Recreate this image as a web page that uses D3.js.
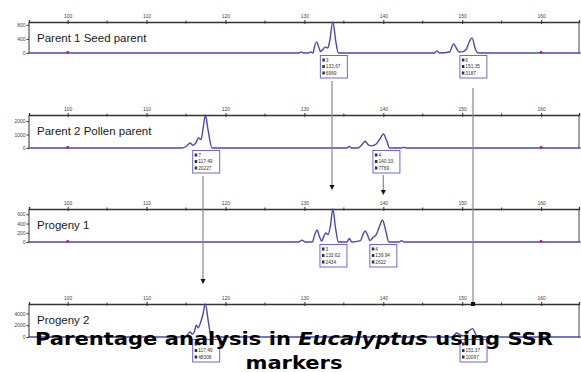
<!DOCTYPE html>
<html>
<head>
<meta charset="utf-8">
<script src="https://cdn.jsdelivr.net/npm/d3@7"></script>
<style>
  html, body { margin: 0; padding: 0; background: #fff; }
  svg { display: block; }
</style>
</head>
<body>
<div id="chart"></div>
<script>
// panel names, y scales and size ticks
const panelNames = ['Parent 1 Seed parent', 'Parent 2 Pollen parent', 'Progeny 1', 'Progeny 2'];
const yMaxes = [880, 2450, 715, 5600];
const yTicks = [[0, 400, 800], [0, 1000, 2000], [0, 200, 400, 600], [0, 2000, 4000]];
const sizeLabels = [100, 110, 120, 130, 140, 150, 160];
const sizeMinor = [105, 115, 125, 135, 145, 155];
const ladderMarks = [100, 160];

// electropherogram traces [size (bp), rfu]
const trace1 = [[95,0],[129.3,0],[129.6,30],[129.9,0],[130.5,0],[130.8,30],[131.1,0],[131.25,150],[131.55,315],[131.85,150],
  [132.05,40],[132.3,90],[132.65,175],[132.95,140],[133.2,330],[133.6,880],[134.0,300],[134.3,0],[146.5,0],[146.8,60],
  [147.1,0],[148.4,30],[148.9,260],[149.3,120],[149.6,30],[150.1,40],[150.5,100],[150.9,320],[151.25,430],[151.65,120],[152,0],[165,0]];
const trace2 = [[95,0],[114.5,0],[115.1,150],[115.5,370],[115.9,200],[116.2,350],[116.6,740],[116.9,620],[117.2,1600],
  [117.45,2450],[117.8,1300],[118.3,0],[135.4,0],[135.7,120],[136,0],[136.8,0],[137.3,250],[137.7,500],[138.1,230],
  [138.5,160],[139.1,300],[139.6,700],[140,1040],[140.4,600],[140.8,0],[142.3,0],[142.6,50],[142.9,0],[165,0]];
const trace3 = [[95,0],[129.3,0],[129.7,40],[130.1,0],[131,0],[131.3,150],[131.6,260],[131.9,120],[132.2,20],[132.45,120],
  [132.7,195],[133,160],[133.3,350],[133.6,715],[133.95,300],[134.3,0],[135.4,0],[135.7,76],[136,0],[137.1,30],[137.4,150],
  [137.7,238],[138,150],[138.3,30],[138.7,100],[139.1,160],[139.5,330],[139.9,477],[140.3,250],[140.7,0],[142,0],
  [142.3,30],[142.6,0],[165,0]];
const trace4 = [[95,0],[114.8,0],[115.2,400],[115.5,850],[115.8,500],[116.05,900],[116.3,2000],[116.55,1550],[116.8,2300],
  [117.1,3600],[117.45,5600],[117.85,2400],[118.2,0],[148.7,0],[149.3,680],[149.8,300],[150.3,200],[150.9,1100],
  [151.3,1420],[151.7,500],[152,0],[165,0]];
const traces = [trace1, trace2, trace3, trace4];

// allele call boxes: allele, size, area
const calls1 = [{ al: '3', size: 133.67, area: 6969 }, { al: '6', size: 151.35, area: 3187 }];
const calls2 = [{ al: '7', size: 117.49, area: 20227 }, { al: '4', size: 140.33, area: 7769 }];
const calls3 = [{ al: '3', size: 133.62, area: 2434 }, { al: '4', size: 139.94, area: 2622 }];
const calls4 = [{ al: '7', size: 117.49, area: 48308 }, { al: '6', size: 151.37, area: 10097 }];
const calls = [calls1, calls2, calls3, calls4];

const W = 581, H = 372;
const left = 29, right = 579;
const panelTops = [22, 115, 209, 304];
const panelHeights = [31, 33, 33, 33];
const traceColor = '#4848b4';
const boxColor = '#6a6ad2';

const svg = d3.select('#chart').append('svg')
  .attr('width', W).attr('height', H)
  .attr('viewBox', `0 0 ${W} ${H}`);

const x = d3.scaleLinear().domain([95.1, 164.8]).range([left, right]);

panelNames.forEach((name, i) => {
  const top = panelTops[i];
  const base = top + panelHeights[i];
  const y = d3.scaleLinear().domain([0, yMaxes[i]]).range([base, top]);
  const g = svg.append('g').attr('class', 'panel');

  // frame sides
  g.append('line').attr('x1', left).attr('x2', left).attr('y1', top).attr('y2', base)
    .attr('stroke', '#333').attr('stroke-width', 1);
  g.append('line').attr('x1', right).attr('x2', right).attr('y1', top).attr('y2', base)
    .attr('stroke', '#444').attr('stroke-width', 1);

  // top size axis
  const topAxis = g.append('g').attr('transform', `translate(0,${top})`)
    .call(d3.axisTop(x).tickValues(sizeLabels).tickSize(2).tickFormat(d3.format('d')));
  topAxis.select('.domain').attr('stroke', '#333').attr('stroke-width', 1.3);
  topAxis.selectAll('.tick line').attr('stroke', '#333').attr('y2', 2).attr('y1', -2);
  topAxis.selectAll('.tick text').attr('font-family', 'Liberation Sans, Arial, sans-serif')
    .attr('font-size', 5).attr('fill', '#444').attr('y', -4);
  g.selectAll('.minor').data(sizeMinor).enter().append('line')
    .attr('x1', d => x(d)).attr('x2', d => x(d)).attr('y1', top - 1.5).attr('y2', top + 1.5)
    .attr('stroke', '#333');

  // left rfu axis
  const leftAxis = g.append('g').attr('transform', `translate(${left},0)`)
    .call(d3.axisLeft(y).tickValues(yTicks[i]).tickSize(2.5).tickFormat(d3.format('d')));
  leftAxis.select('.domain').remove();
  leftAxis.selectAll('.tick line').attr('stroke', '#333');
  leftAxis.selectAll('.tick text').attr('font-family', 'Liberation Sans, Arial, sans-serif')
    .attr('font-size', 5).attr('fill', '#444').attr('x', -3.5);

  // trace
  const line = d3.line().x(d => x(d[0])).y(d => y(d[1])).curve(d3.curveMonotoneX);
  g.append('path').datum(traces[i]).attr('d', line)
    .attr('fill', 'none').attr('stroke', traceColor).attr('stroke-width', 1.4);

  // ladder marks
  g.selectAll('.mark').data(ladderMarks).enter().append('circle')
    .attr('cx', d => x(d)).attr('cy', base - 0.8).attr('r', 1.3).attr('fill', '#c8102e');

  // panel label
  g.append('text').attr('x', 37).attr('y', top + 20)
    .attr('font-family', 'Liberation Sans, Arial, sans-serif').attr('font-size', 11.5)
    .attr('fill', '#1a1a1a').text(name);

  // allele call boxes
  const box = g.selectAll('.call').data(calls[i]).enter().append('g')
    .attr('transform', d => `translate(${x(d.size) - 13},${base + 2.5})`);
  box.append('rect').attr('width', 27).attr('height', 22.5)
    .attr('fill', '#fff').attr('stroke', boxColor).attr('stroke-width', 1);
  const rows = d => [d.al, d.size.toFixed(2), String(d.area)];
  box.each(function(d) {
    const b = d3.select(this);
    rows(d).forEach((t, k) => {
      b.append('rect').attr('x', 2).attr('y', 3 + k * 6.5).attr('width', 2.5).attr('height', 3)
        .attr('fill', '#333');
      b.append('text').attr('x', 5.5).attr('y', 6.3 + k * 6.5)
        .attr('font-family', 'Liberation Sans, Arial, sans-serif').attr('font-size', 4.8)
        .attr('fill', '#333').text(t);
    });
  });
});

// inheritance arrows
const arrowLines = svg.append('g').attr('class', 'arrows');
function arrow(bp, y0, y1, head) {
  const ax = x(bp);
  arrowLines.append('line').attr('x1', ax).attr('x2', ax).attr('y1', y0).attr('y2', head ? y1 - 4 : y1)
    .attr('stroke', '#888').attr('stroke-width', 1.2);
  if (head) {
    arrowLines.append('path')
      .attr('d', `M${ax - 2.5},${y1 - 5} L${ax + 2.5},${y1 - 5} L${ax},${y1} Z`)
      .attr('fill', '#111');
  }
}
arrow(133.5, panelTops[0] + panelHeights[0] + 28, 190, true);
arrow(140, panelTops[1] + panelHeights[1] + 27, 195, true);
arrow(117.15, panelTops[1] + panelHeights[1] + 28, 284, true);
arrow(151.37, 88, panelTops[3], false);
arrowLines.append('rect').attr('x', x(151.37) - 2).attr('y', panelTops[3] - 2).attr('width', 4).attr('height', 4)
  .attr('fill', '#111');

// title, drawn over the bottom panel as in the source figure
const titleFont = sel => sel.attr('text-anchor', 'middle')
  .attr('font-family', 'DejaVu Sans, Verdana, sans-serif').attr('font-weight', 'bold')
  .attr('font-size', 18).attr('fill', '#000')
  .attr('lengthAdjust', 'spacingAndGlyphs');
const t1 = svg.append('text').call(titleFont).attr('x', 294).attr('y', 345).attr('textLength', 518);
t1.append('tspan').text('Parentage analysis in ');
t1.append('tspan').attr('font-style', 'italic').text('Eucalyptus');
t1.append('tspan').text(' using SSR');
svg.append('text').call(titleFont).attr('x', 294).attr('y', 369).attr('textLength', 97).text('markers');
</script>
</body>
</html>
